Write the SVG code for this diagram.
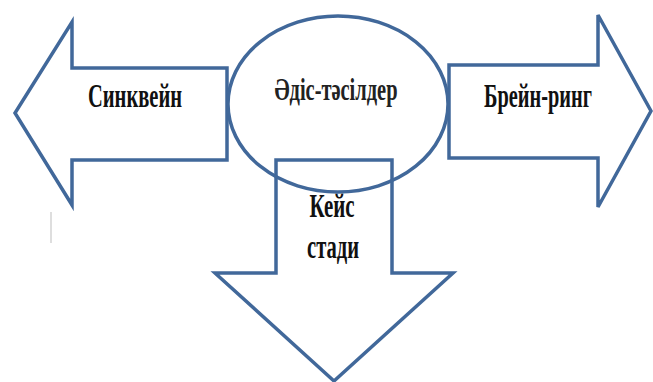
<svg xmlns="http://www.w3.org/2000/svg" width="653" height="382" viewBox="0 0 653 382">
<style>
.shape{fill:none;stroke:#41689A;stroke-width:3.5;stroke-linejoin:miter}
.lbl{font-family:"Liberation Serif","Times New Roman",serif;font-weight:bold;font-size:22px;fill:#111;text-anchor:middle}
.mid{font-family:"Liberation Serif","DejaVu Serif",serif;font-weight:bold;font-size:21px;fill:#222;text-anchor:middle}
</style>
<rect width="653" height="382" fill="#fff"/>
<g id="connectors"></g>
<g id="sinkveyn">
<polygon class="shape" points="227,68 72,68 72,22 15,113 72,205 72,160 227,160"/>
<text class="lbl" transform="translate(135,107) scale(1,1.5)" textLength="94" lengthAdjust="spacingAndGlyphs">Синквейн</text>
</g>
<g id="brein-ring">
<polygon class="shape" points="449,65 598,65 598,15 651,111 598,207 598,158 449,158"/>
<text class="lbl" transform="translate(538,107) scale(1,1.5)" textLength="108" lengthAdjust="spacingAndGlyphs">Брейн-ринг</text>
</g>
<g id="keys-stadi">
<polygon class="shape" points="276,160 392,160 392,273 453,273 334,381 215,273 276,273"/>
<text class="lbl" transform="translate(332,217) scale(1,1.5)" textLength="45" lengthAdjust="spacingAndGlyphs">Кейс</text>
<text class="lbl" transform="translate(333,258) scale(1,1.5)" textLength="52" lengthAdjust="spacingAndGlyphs">стади</text>
</g>
<g id="adis-tasilder">
<ellipse class="shape" cx="338" cy="104" rx="110" ry="88"/>
<text class="mid" transform="translate(336,100) scale(1,1.5)" textLength="123" lengthAdjust="spacingAndGlyphs">Әдіс-тәсілдер</text>
</g>
<line x1="51" y1="212" x2="51" y2="243" stroke="#c8c8c8" stroke-width="1.2"/>
</svg>
